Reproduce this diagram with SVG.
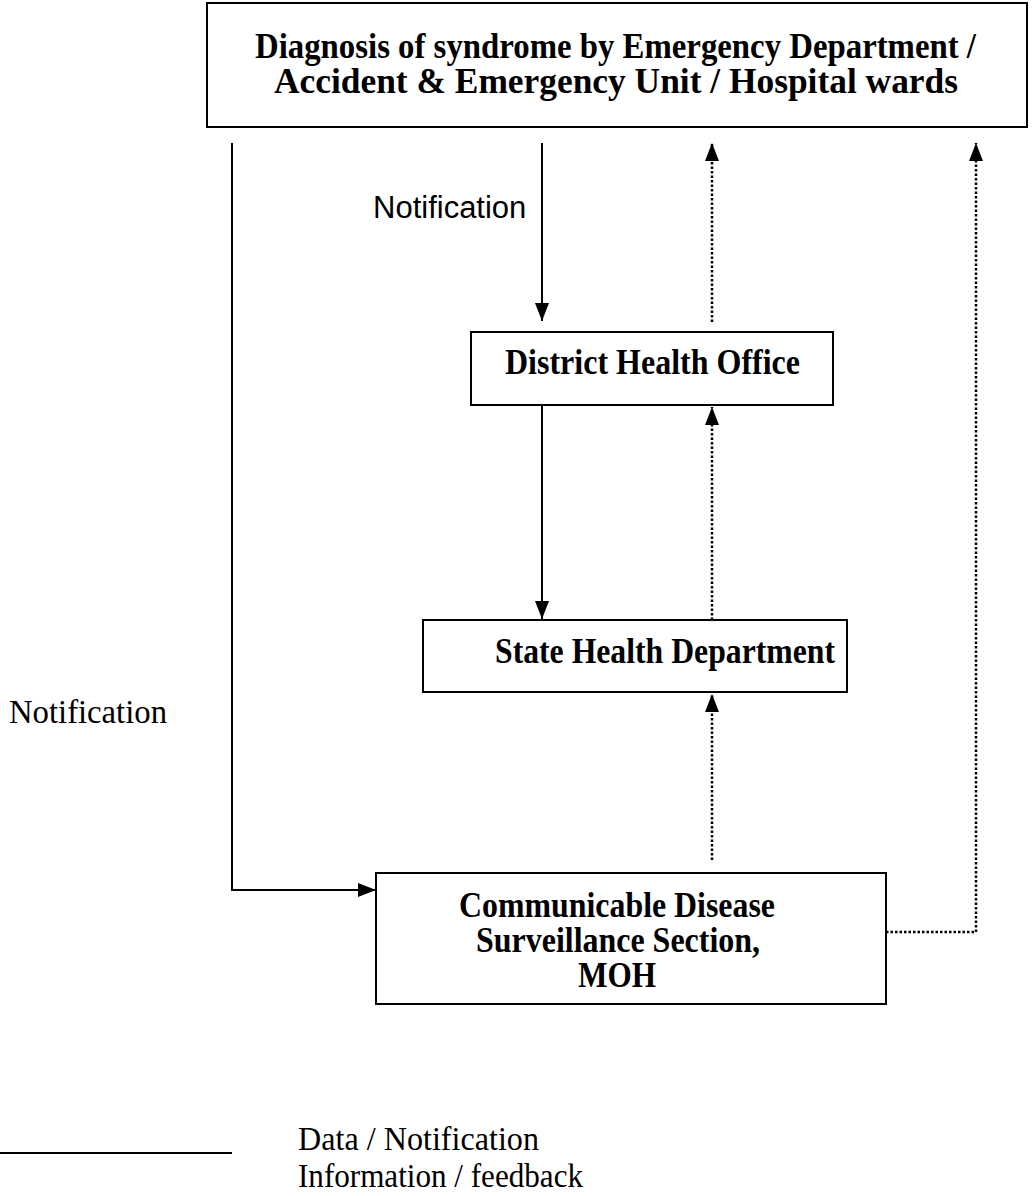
<svg xmlns="http://www.w3.org/2000/svg" width="1034" height="1196" viewBox="0 0 1034 1196">
  <style>
    .box { fill: #fff; stroke: #000; stroke-width: 2; }
    .title { font-family: "Liberation Serif", "Times New Roman", serif; font-weight: bold; font-size: 35px; fill: #000; }
    .serif { font-family: "Liberation Serif", "Times New Roman", serif; font-size: 33px; fill: #000; }
    .sans { font-family: "Liberation Sans", Arial, sans-serif; font-size: 31px; fill: #000; }
    .solid { fill: none; stroke: #000; stroke-width: 2; }
    .dotted { fill: none; stroke: #000; stroke-width: 2.5; stroke-dasharray: 2.5 2; }
  </style>
  <defs>
    <marker id="arrow" markerUnits="userSpaceOnUse" markerWidth="18" markerHeight="14" refX="18" refY="7" viewBox="0 0 18 14" orient="auto">
      <path d="M0,0 L18,7 L0,14 Z" fill="#000"/>
    </marker>
  </defs>

  <rect width="1034" height="1196" fill="#fff"/>

  <!-- connectors -->
  <g id="connectors">
    <path class="solid" d="M232,143 V890 H376" marker-end="url(#arrow)"/>
    <path class="solid" d="M542,143 V321" marker-end="url(#arrow)"/>
    <path class="solid" d="M542,405 V619" marker-end="url(#arrow)"/>
    <path class="dotted" d="M712,322 V143" marker-end="url(#arrow)"/>
    <path class="dotted" d="M712,620 V407" marker-end="url(#arrow)"/>
    <path class="dotted" d="M712,860 V694" marker-end="url(#arrow)"/>
    <path class="dotted" d="M886,932 H976 V143" marker-end="url(#arrow)"/>
    <text class="sans" x="373" y="218">Notification</text>
    <text class="serif" x="9" y="723" textLength="158" lengthAdjust="spacingAndGlyphs">Notification</text>
  </g>

  <!-- nodes -->
  <g id="node-diagnosis">
    <rect class="box" x="207" y="3" width="820" height="124"/>
    <text class="title" x="255" y="58" textLength="721" lengthAdjust="spacingAndGlyphs">Diagnosis of syndrome by Emergency Department /</text>
    <text class="title" x="274" y="93" textLength="684" lengthAdjust="spacingAndGlyphs">Accident &amp; Emergency Unit / Hospital wards</text>
  </g>

  <g id="node-district">
    <rect class="box" x="471" y="332" width="362" height="73"/>
    <text class="title" x="505" y="374" textLength="295" lengthAdjust="spacingAndGlyphs">District Health Office</text>
  </g>

  <g id="node-state">
    <rect class="box" x="423" y="620" width="424" height="72"/>
    <text class="title" x="495" y="663" textLength="340" lengthAdjust="spacingAndGlyphs">State Health Department</text>
  </g>

  <g id="node-cdss">
    <rect class="box" x="376" y="873" width="510" height="131"/>
    <text class="title" x="459" y="917" textLength="316" lengthAdjust="spacingAndGlyphs">Communicable Disease</text>
    <text class="title" x="476" y="952" textLength="284" lengthAdjust="spacingAndGlyphs">Surveillance Section,</text>
    <text class="title" x="578" y="987" textLength="78" lengthAdjust="spacingAndGlyphs">MOH</text>
  </g>

  <!-- legend -->
  <g id="legend">
    <line class="solid" x1="0" y1="1153" x2="232" y2="1153"/>
    <text class="serif" x="298" y="1150" textLength="241" lengthAdjust="spacingAndGlyphs">Data / Notification</text>
    <text class="serif" x="298" y="1187" textLength="285" lengthAdjust="spacingAndGlyphs">Information / feedback</text>
  </g>
</svg>
